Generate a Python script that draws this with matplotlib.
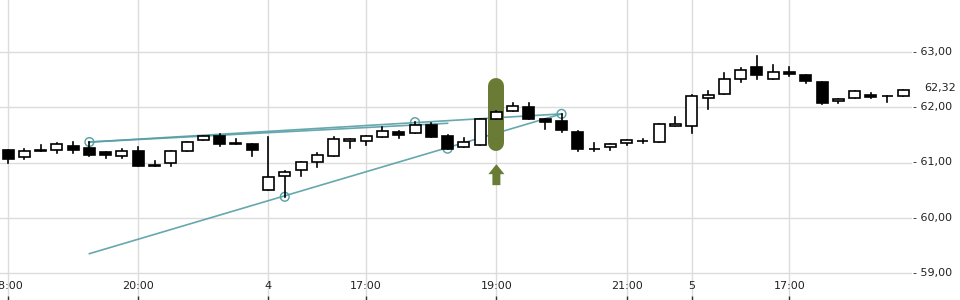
"""
Intraday candlestick chart with two trend lines and a highlighted candle.
"""
import numpy as np
import matplotlib
matplotlib.use("Agg")
import matplotlib.pyplot as plt
from matplotlib.patches import Rectangle, FancyArrow
from matplotlib.transforms import blended_transform_factory, offset_copy

plt.rcParams.update({
    "font.family": "DejaVu Sans",
    "axes.spines.top": False,
    "axes.spines.right": False,
    "axes.spines.left": False,
    "axes.spines.bottom": False,
})

# OHLC per candle (index 0 .. 55)
opens = [61.23, 61.10, 61.23, 61.22, 61.30, 61.26, 61.19, 61.11, 61.21, 60.96,
         60.99, 61.20, 61.40, 61.48, 61.35, 61.34, 60.50, 60.75, 60.86, 61.01,
         61.11, 61.39, 61.39, 61.46, 61.55, 61.53, 61.68, 61.48, 61.28, 61.31,
         61.78, 61.93, 62.01, 61.79, 61.75, 61.55, 61.24, 61.28, 61.35, 61.39,
         61.37, 61.66, 61.66, 62.16, 62.24, 62.51, 62.72, 62.52, 62.64, 62.58,
         62.46, 62.11, 62.16, 62.22, 62.20, 62.20]
highs = [61.23, 61.24, 61.32, 61.36, 61.37, 61.37, 61.19, 61.25, 61.28, 61.03,
         61.20, 61.37, 61.48, 61.51, 61.43, 61.34, 61.46, 60.85, 61.01, 61.17,
         61.46, 61.42, 61.48, 61.64, 61.57, 61.73, 61.71, 61.50, 61.44, 61.78,
         61.94, 62.08, 62.08, 61.79, 61.88, 61.57, 61.35, 61.33, 61.41, 61.43,
         61.69, 61.82, 62.22, 62.30, 62.62, 62.71, 62.93, 62.76, 62.72, 62.58,
         62.46, 62.15, 62.29, 62.26, 62.20, 62.31]
lows = [60.99, 61.06, 61.20, 61.18, 61.18, 61.12, 61.09, 61.08, 60.93, 60.93,
        60.94, 61.20, 61.40, 61.29, 61.33, 61.12, 60.50, 60.38, 60.75, 60.91,
        61.11, 61.27, 61.31, 61.46, 61.45, 61.53, 61.46, 61.25, 61.28, 61.31,
        61.78, 61.93, 61.78, 61.60, 61.55, 61.21, 61.20, 61.22, 61.31, 61.35,
        61.37, 61.66, 61.53, 61.96, 62.24, 62.45, 62.52, 62.52, 62.56, 62.43,
        62.05, 62.07, 62.16, 62.17, 62.10, 62.20]
closes = [61.07, 61.21, 61.20, 61.33, 61.23, 61.14, 61.13, 61.21, 60.94, 60.93,
          61.20, 61.37, 61.48, 61.33, 61.33, 61.23, 60.73, 60.82, 61.01, 61.13,
          61.42, 61.42, 61.48, 61.57, 61.50, 61.67, 61.46, 61.25, 61.37, 61.78,
          61.91, 62.02, 61.78, 61.74, 61.58, 61.25, 61.24, 61.33, 61.41, 61.39,
          61.69, 61.70, 62.20, 62.22, 62.51, 62.67, 62.58, 62.63, 62.61, 62.47,
          62.08, 62.15, 62.29, 62.19, 62.20, 62.31]

# time axis labels at candle indices
xtick_idx = [0, 8, 16, 22, 30, 38, 42, 48]
xtick_labels = ["18:00", "20:00", "4", "17:00", "19:00", "21:00", "5", "17:00"]

# price axis
ytick_vals = [59, 60, 61, 62, 63]
last_price = 62.32

# trend lines: (index, price) pairs
upper_line = ([5, 34], [61.37, 61.88])
upper_line_short = ([5, 27], [61.37, 61.71])
lower_line = ([5, 34], [59.35, 61.88])
touch_idx = [5, 17, 25, 27, 34]
touch_price = [61.37, 60.38, 61.73, 61.25, 61.88]

# signal candle
signal_idx = 30
signal_top, signal_bottom = 62.53, 61.20
arrow_base, arrow_tip = 60.59, 60.97

TEAL = "#569ea5"
OLIVE = "#6a7b35"
GRID = "#dcdcdc"

fig = plt.figure(figsize=(9.6, 3.0), dpi=100)
ax = fig.add_axes([0, 0, 912 / 960, 1])

ax.set_xlim(-8 / 16.28, (912 - 8) / 16.28)
ax.set_ylim(59 - 27 / 55.25, 63 + 52 / 55.25)

# px -> data scale helpers
x_per_px = (ax.get_xlim()[1] - ax.get_xlim()[0]) / 912
y_per_px = (ax.get_ylim()[1] - ax.get_ylim()[0]) / 300

ax.set_xticks(xtick_idx)
ax.set_xticklabels(xtick_labels)
ax.set_yticks(ytick_vals)
ax.set_yticklabels([])
ax.tick_params(axis="y", length=0)
ax.tick_params(axis="x", direction="in", length=3, width=1, color="#333333",
               pad=-14, labelsize=8, labelcolor="#222222")
ax.grid(True, color=GRID, linewidth=1)
ax.set_axisbelow(True)

# right-side price labels
trans = offset_copy(blended_transform_factory(ax.transAxes, ax.transData),
                    fig=fig, x=1, y=0, units="dots")
for v in ytick_vals:
    ax.text(1.0, v, "- " + f"{v:.2f}".replace(".", ","), transform=trans,
            ha="left", va="center", fontsize=8, color="#222222", clip_on=False)
trans2 = offset_copy(blended_transform_factory(ax.transAxes, ax.transData),
                     fig=fig, x=12, y=0, units="dots")
ax.text(1.0, last_price + 0.03, f"{last_price:.2f}".replace(".", ","), transform=trans2,
        ha="left", va="center", fontsize=8, color="#222222", clip_on=False)

# trend lines
for xs, ys in (upper_line, upper_line_short, lower_line):
    ax.plot(xs, ys, color=TEAL, linewidth=1.2, zorder=2, alpha=0.9)
ax.scatter(touch_idx, touch_price, s=40, facecolors="none", edgecolors=TEAL,
           linewidths=1, zorder=3)

# signal highlight (capsule) and arrow
cap = 8 * y_per_px
ax.plot([signal_idx, signal_idx], [signal_top - cap, signal_bottom + cap],
        color=OLIVE, linewidth=16 * 0.72, solid_capstyle="round", zorder=4)
ax.add_patch(FancyArrow(signal_idx, arrow_base, 0, arrow_tip - arrow_base,
                        width=8 * x_per_px, head_width=16 * x_per_px,
                        head_length=10 * y_per_px, length_includes_head=True,
                        color=OLIVE, linewidth=0, zorder=4))

# candles
body_w = 11 * x_per_px
for i, (o, h, l, c) in enumerate(zip(opens, highs, lows, closes)):
    up = c >= o
    ax.plot([i, i], [l, h], color="black", linewidth=1.2, zorder=5)
    lo, hi = min(o, c), max(o, c)
    ax.add_patch(Rectangle((i - body_w / 2, lo), body_w, max(hi - lo, 1e-4),
                           facecolor="white" if up else "black",
                           edgecolor="black", linewidth=1.2, zorder=6))

fig.savefig("out.png", dpi=100)
